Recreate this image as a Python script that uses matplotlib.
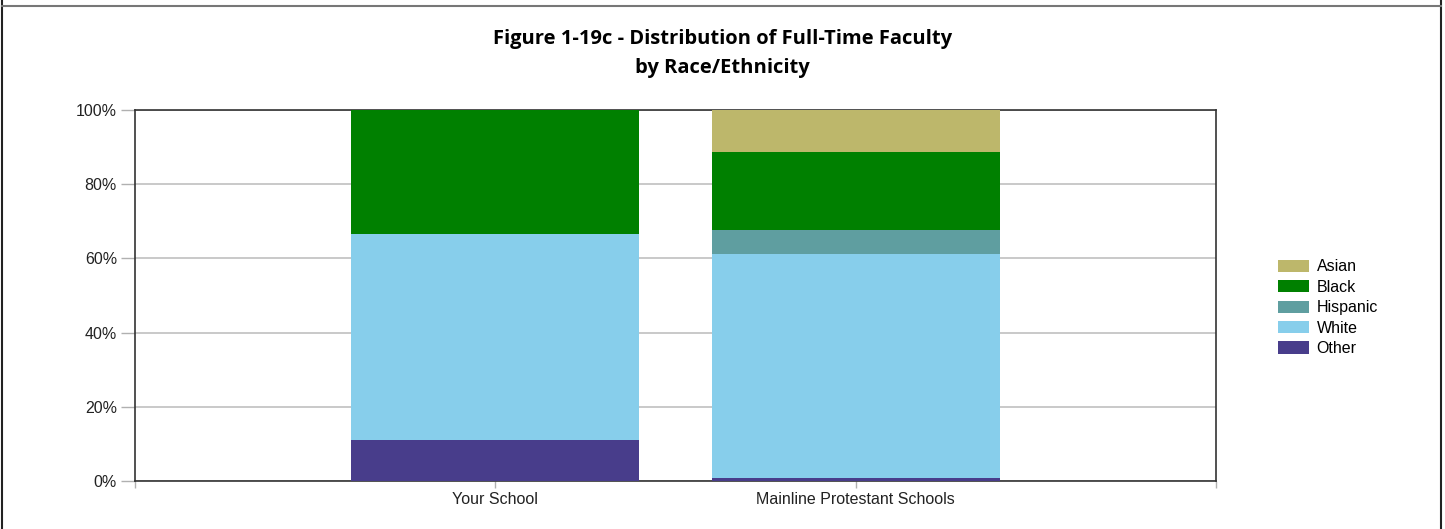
import numpy as np
import matplotlib
matplotlib.use("Agg")
import matplotlib.pyplot as plt
from matplotlib.patches import Patch
from matplotlib.lines import Line2D
from matplotlib.ticker import PercentFormatter

# data (percent of full-time faculty)
categories = ["Your School", "Mainline Protestant Schools"]
groups = ["Other", "White", "Hispanic", "Black", "Asian"]  # bottom -> top
other = [11.1, 0.9]
white = [55.6, 60.3]
hispanic = [0.0, 6.5]
black = [33.3, 20.9]
asian = [0.0, 11.4]
colors = {"Asian": "#BDB76B", "Black": "#008000", "Hispanic": "#5F9EA0",
          "White": "#87CEEB", "Other": "#483D8B"}

values = {"Other": other, "White": white, "Hispanic": hispanic,
          "Black": black, "Asian": asian}

plt.rcParams["font.family"] = ["Liberation Sans", "DejaVu Sans"]

fig = plt.figure(figsize=(14.45, 5.29), dpi=100)
ax = fig.add_axes([135 / 1445, 48 / 529, 1081 / 1445, 371 / 529])

x = np.arange(1, len(categories) + 1)
bottom = np.zeros(len(categories))
for g in groups:
    v = np.array(values[g])
    ax.bar(x, v, 0.8, bottom=bottom, color=colors[g], linewidth=0, zorder=3)
    bottom += v

ax.set_xlim(0, 3)
ax.set_ylim(0, 100)
ax.set_yticks([0, 20, 40, 60, 80, 100])
ax.yaxis.set_major_formatter(PercentFormatter(decimals=0))
ax.set_xticks([0, 1, 2, 3])
ax.set_xticklabels(["", categories[0], categories[1], ""])
ax.grid(axis="y", color="#c0c0c0", linewidth=1.2, zorder=0)
ax.tick_params(axis="both", colors="#b0b0b0", labelcolor="#222222", labelsize=11.5,
               length=5, width=1)
ax.tick_params(axis="y", length=10, pad=3)
ax.tick_params(axis="x", pad=3)
for s in ax.spines.values():
    s.set_color("#333333")
    s.set_linewidth(1.2)

title_font = ["Open Sans", "DejaVu Sans"]
fig.text(0.5, 1 - 39 / 529, "Figure 1-19c - Distribution of Full-Time Faculty",
         ha="center", va="center", fontsize=14.5, fontweight="bold", family=title_font)
fig.text(0.5, 1 - 68 / 529, "by Race/Ethnicity",
         ha="center", va="center", fontsize=14.5, fontweight="bold", family=title_font)

handles = [Patch(facecolor=colors[g], edgecolor="none", label=g) for g in groups[::-1]]
fig.legend(handles=handles, loc="upper left", bbox_to_anchor=(1272 / 1445, 1 - 253 / 529),
           frameon=False, fontsize=11.5, handlelength=1.9, handleheight=0.8,
           handletextpad=0.5, labelspacing=0.34, borderaxespad=0)

# outer frame
fig.add_artist(Line2D([2 / 1445, 2 / 1445], [0, 1], color="#222222", lw=1.5))
fig.add_artist(Line2D([1441 / 1445, 1441 / 1445], [0, 1], color="#222222", lw=1.5))
fig.add_artist(Line2D([2 / 1445, 1441 / 1445], [1 - 6 / 529, 1 - 6 / 529], color="#777777", lw=1.5))

fig.savefig("out.png", dpi=100)
